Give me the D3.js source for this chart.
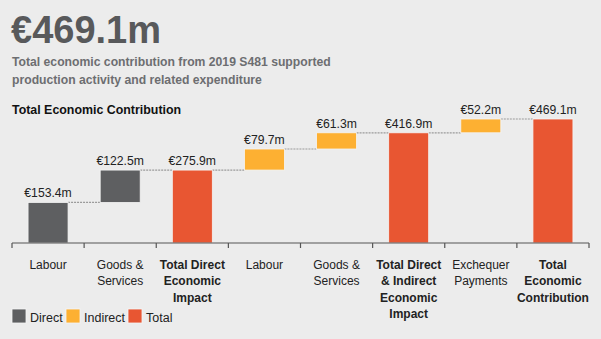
<!DOCTYPE html>
<html><head><meta charset="utf-8">
<script src="https://cdn.jsdelivr.net/npm/d3@7"></script>
<style>
html,body{margin:0;padding:0;background:#ececec;}
svg{display:block;font-family:"Liberation Sans",Arial,sans-serif;}
</style></head>
<body><svg id="chart" width="601" height="339"></svg>
<script>
const categories = [
  ["Labour"],
  ["Goods &", "Services"],
  ["Total Direct", "Economic", "Impact"],
  ["Labour"],
  ["Goods &", "Services"],
  ["Total Direct", "& Indirect", "Economic", "Impact"],
  ["Exchequer", "Payments"],
  ["Total", "Economic", "Contribution"]
];
const types = ["Direct", "Direct", "Total", "Indirect", "Indirect", "Total", "Indirect", "Total"];
const values = [153.4, 122.5, 275.9, 79.7, 61.3, 416.9, 52.2, 469.1];
const valueLabels = ["€153.4m", "€122.5m", "€275.9m", "€79.7m", "€61.3m", "€416.9m", "€52.2m", "€469.1m"];
const legendItems = ["Direct", "Indirect", "Total"];
const colors = {Direct: "#5e5f61", Indirect: "#fdb032", Total: "#e85632"};

// compute waterfall spans
let running = 0;
const bars = values.map((v, i) => {
  let y0, y1;
  if (types[i] === "Total") { y0 = 0; y1 = v; running = v; }
  else { y0 = running; y1 = running + v; running = y1; }
  return {i, y0, y1, type: types[i], label: valueLabels[i], cat: categories[i]};
});

const svg = d3.select("#chart");

svg.append("text").attr("x", 11).attr("y", 43).attr("font-size", 38).attr("font-weight", "bold")
  .attr("fill", "#58595b").text("€469.1m");
svg.append("text").attr("x", 12).attr("y", 66).attr("font-size", 12.2).attr("font-weight", "bold")
  .attr("fill", "#6d6e71").text("Total economic contribution from 2019 S481 supported");
svg.append("text").attr("x", 12).attr("y", 84).attr("font-size", 12.2).attr("font-weight", "bold")
  .attr("fill", "#6d6e71").text("production activity and related expenditure");
svg.append("text").attr("x", 12).attr("y", 114).attr("font-size", 12.4).attr("font-weight", "bold")
  .attr("fill", "#111").text("Total Economic Contribution");

const x = d3.scaleBand().domain(d3.range(categories.length)).range([12, 589]).paddingInner(0).paddingOuter(0);
const y = d3.scaleLinear().domain([0, 469.1]).range([243, 119]);
const bw = 40;
const cx = i => x(i) + x.bandwidth() / 2;

// connectors
const g = svg.append("g");
bars.slice(0, -1).forEach((b, k) => {
  g.append("line")
    .attr("x1", cx(k) + bw / 2).attr("x2", cx(k + 1) - bw / 2)
    .attr("y1", y(b.y1)).attr("y2", y(b.y1))
    .attr("stroke", "#9a9a9a").attr("stroke-width", 1.2).attr("stroke-dasharray", "2,1");
});

g.selectAll("rect.bar").data(bars).join("rect").attr("class", "bar")
  .attr("x", d => cx(d.i) - bw / 2).attr("width", bw)
  .attr("y", d => y(d.y1)).attr("height", d => y(d.y0) - y(d.y1))
  .attr("fill", d => colors[d.type]).attr("stroke", "#f4f4f4").attr("stroke-width", 0.8);

g.selectAll("text.val").data(bars).join("text").attr("class", "val")
  .attr("x", d => cx(d.i)).attr("y", d => y(d.y1) - 5).attr("text-anchor", "middle")
  .attr("font-size", 12.2).attr("fill", "#222").text(d => d.label);

// axis
const axis = d3.axisBottom(x).tickValues([]).tickSizeOuter(0);
const ax = svg.append("g").attr("transform", "translate(0,243)").call(axis);
ax.select(".domain").attr("stroke", "#555").attr("stroke-width", 1.2);
const tickXs = d3.range(categories.length + 1).map(i => i < categories.length ? x(i) : x(categories.length - 1) + x.bandwidth());
tickXs.forEach(t => ax.append("line").attr("x1", t).attr("x2", t).attr("y1", 0).attr("y2", 5)
  .attr("stroke", "#555").attr("stroke-width", 1.2));
ax.select(".domain").attr("d", `M${tickXs[0]},0H${tickXs[tickXs.length-1]}`);

bars.forEach(b => {
  const t = svg.append("text").attr("x", cx(b.i)).attr("y", 269).attr("text-anchor", "middle")
    .attr("font-size", 12).attr("fill", "#222")
    .attr("font-weight", b.type === "Total" ? "bold" : "normal");
  b.cat.forEach((line, li) => t.append("tspan").attr("x", cx(b.i)).attr("dy", li === 0 ? 0 : 16.3).text(line));
});

// legend
const legendX = [12, 66, 128];
legendItems.forEach((k, i) => {
  svg.append("rect").attr("x", legendX[i]).attr("y", 309).attr("width", 14).attr("height", 14)
    .attr("fill", colors[k]).attr("stroke", "#f4f4f4").attr("stroke-width", 0.8);
  svg.append("text").attr("x", legendX[i] + 18).attr("y", 322).attr("font-size", 12.5).attr("fill", "#222").text(k);
});
</script></body></html>
